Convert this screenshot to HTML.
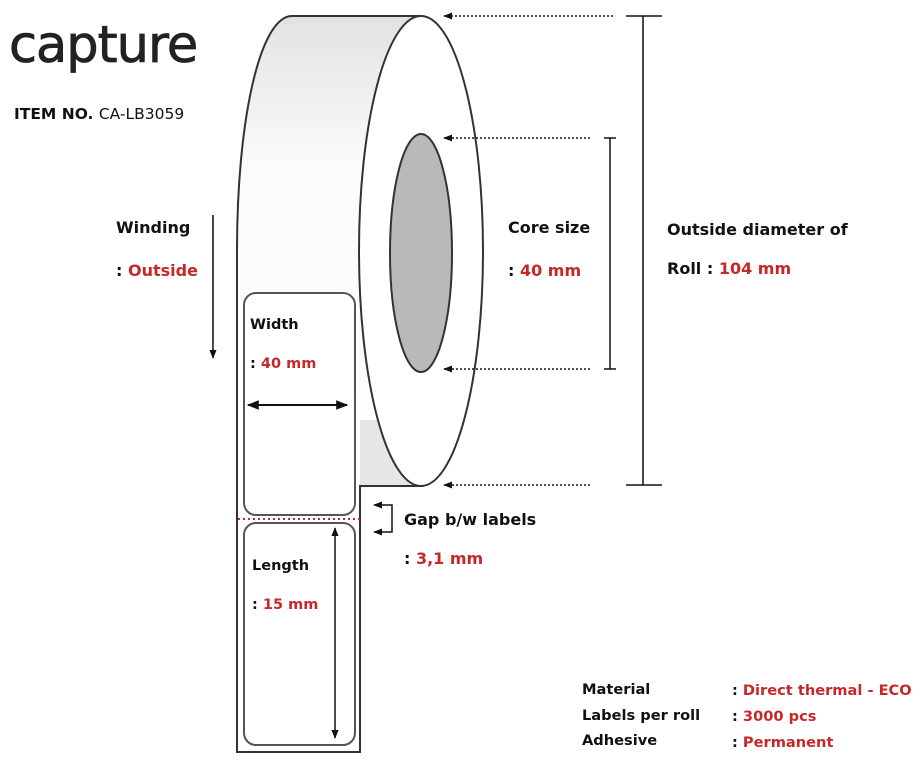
<!DOCTYPE html>
<html><head><meta charset="utf-8"><style>
html,body{margin:0;padding:0;background:#fff;}
svg{display:block;}
text{font-family:"DejaVu Sans","Liberation Sans",sans-serif;font-weight:bold;font-size:16px;fill:#111;}
.r{fill:#c62828;}
</style></head><body>
<svg width="922" height="762" viewBox="0 0 922 762" xmlns="http://www.w3.org/2000/svg">
<defs>
<linearGradient id="g" x1="0" y1="0" x2="0" y2="1">
<stop offset="0" stop-color="#e2e2e2"/><stop offset="0.2" stop-color="#fbfbfb"/><stop offset="1" stop-color="#fff"/>
</linearGradient>
<marker id="a" viewBox="0 0 10 10" refX="9" refY="5" markerWidth="6" markerHeight="6" orient="auto-start-reverse"><path d="M0,1 L10,5 L0,9 Z" fill="#111"/></marker>
</defs>
<!-- logo -->
<text x="9" y="62" style="font-family:'DejaVu Sans','Liberation Sans',sans-serif;font-weight:normal;font-size:51px;fill:#222;stroke:#222;stroke-width:0.8;letter-spacing:-1px">capture</text>
<text x="14" y="119" style="font-size:15.5px">ITEM NO. <tspan style="font-weight:normal">CA-LB3059</tspan></text>

<!-- roll body -->
<path d="M292,16 L422,16 L422,486 L360,486 L360,752 L237,752 L237,250 C237,120 260,16 292,16 Z" fill="url(#g)" stroke="#333" stroke-width="2"/>
<rect x="360" y="420" width="62" height="66" fill="#e6e6e6"/>
<line x1="360" y1="486" x2="422" y2="486" stroke="#333" stroke-width="2"/>
<ellipse cx="421" cy="251" rx="62" ry="235" fill="#fff" stroke="#333" stroke-width="2"/>
<ellipse cx="421" cy="253" rx="31" ry="119" fill="#b9b9b9" stroke="#333" stroke-width="2"/>
<rect x="238" y="300" width="121" height="451" fill="#fff"/>
<path d="M237,250 L237,752 L360,752 L360,486" fill="none" stroke="#333" stroke-width="2"/>

<!-- labels -->
<rect x="244" y="293" width="111" height="222" rx="12" fill="#fff" stroke="#555" stroke-width="2"/>
<rect x="244" y="523" width="111" height="222" rx="12" fill="#fff" stroke="#555" stroke-width="2"/>
<line x1="238" y1="519" x2="360" y2="519" stroke="#c62828" stroke-width="2" stroke-dasharray="2,3"/>
<line x1="248" y1="405" x2="347" y2="405" stroke="#111" stroke-width="2" marker-start="url(#a)" marker-end="url(#a)"/>
<line x1="335" y1="528" x2="335" y2="738" stroke="#111" stroke-width="1.5" marker-start="url(#a)" marker-end="url(#a)"/>
<text x="250" y="329" style="font-size:14.5px">Width</text>
<text x="250" y="368" style="font-size:14.5px">: <tspan class="r">40 mm</tspan></text>
<text x="252" y="570" style="font-size:14.5px">Length</text>
<text x="252" y="609" style="font-size:14.5px">: <tspan class="r">15 mm</tspan></text>

<!-- winding -->
<line x1="213" y1="215" x2="213" y2="358" stroke="#111" stroke-width="1.5" marker-end="url(#a)"/>
<text x="116" y="233">Winding</text>
<text x="116" y="276">: <tspan class="r">Outside</tspan></text>

<!-- gap -->
<path d="M374,505 L392,505 L392,532 L374,532" fill="none" stroke="#111" stroke-width="1.5" marker-start="url(#a)" marker-end="url(#a)"/>
<text x="404" y="525">Gap b/w labels</text>
<text x="404" y="564">: <tspan class="r">3,1 mm</tspan></text>

<!-- dimension dotted arrows -->
<g stroke="#111" stroke-width="1.5" stroke-dasharray="2,2">
<line x1="613" y1="16" x2="444" y2="16" marker-end="url(#a)"/>
<line x1="590" y1="138" x2="444" y2="138" marker-end="url(#a)"/>
<line x1="590" y1="369" x2="444" y2="369" marker-end="url(#a)"/>
<line x1="590" y1="485" x2="444" y2="485" marker-end="url(#a)"/>
</g>
<g stroke="#111" stroke-width="1.5">
<line x1="643" y1="16" x2="643" y2="485"/><line x1="626" y1="16" x2="662" y2="16"/><line x1="626" y1="485" x2="662" y2="485"/>
<line x1="610" y1="138" x2="610" y2="369"/><line x1="604" y1="138" x2="616" y2="138"/><line x1="604" y1="369" x2="616" y2="369"/>
</g>
<text x="508" y="233">Core size</text>
<text x="508" y="276">: <tspan class="r">40 mm</tspan></text>
<text x="667" y="235">Outside diameter of</text>
<text x="667" y="274">Roll : <tspan class="r">104 mm</tspan></text>

<!-- spec table -->
<text x="582" y="694" style="font-size:14.6px">Material</text>
<text x="582" y="720" style="font-size:14.6px">Labels per roll</text>
<text x="582" y="745" style="font-size:14.6px">Adhesive</text>
<text x="732" y="695" style="font-size:14.6px">: <tspan class="r">Direct thermal - ECO</tspan></text>
<text x="732" y="721" style="font-size:14.6px">: <tspan class="r">3000 pcs</tspan></text>
<text x="732" y="747" style="font-size:14.6px">: <tspan class="r">Permanent</tspan></text>
</svg>
</body></html>
